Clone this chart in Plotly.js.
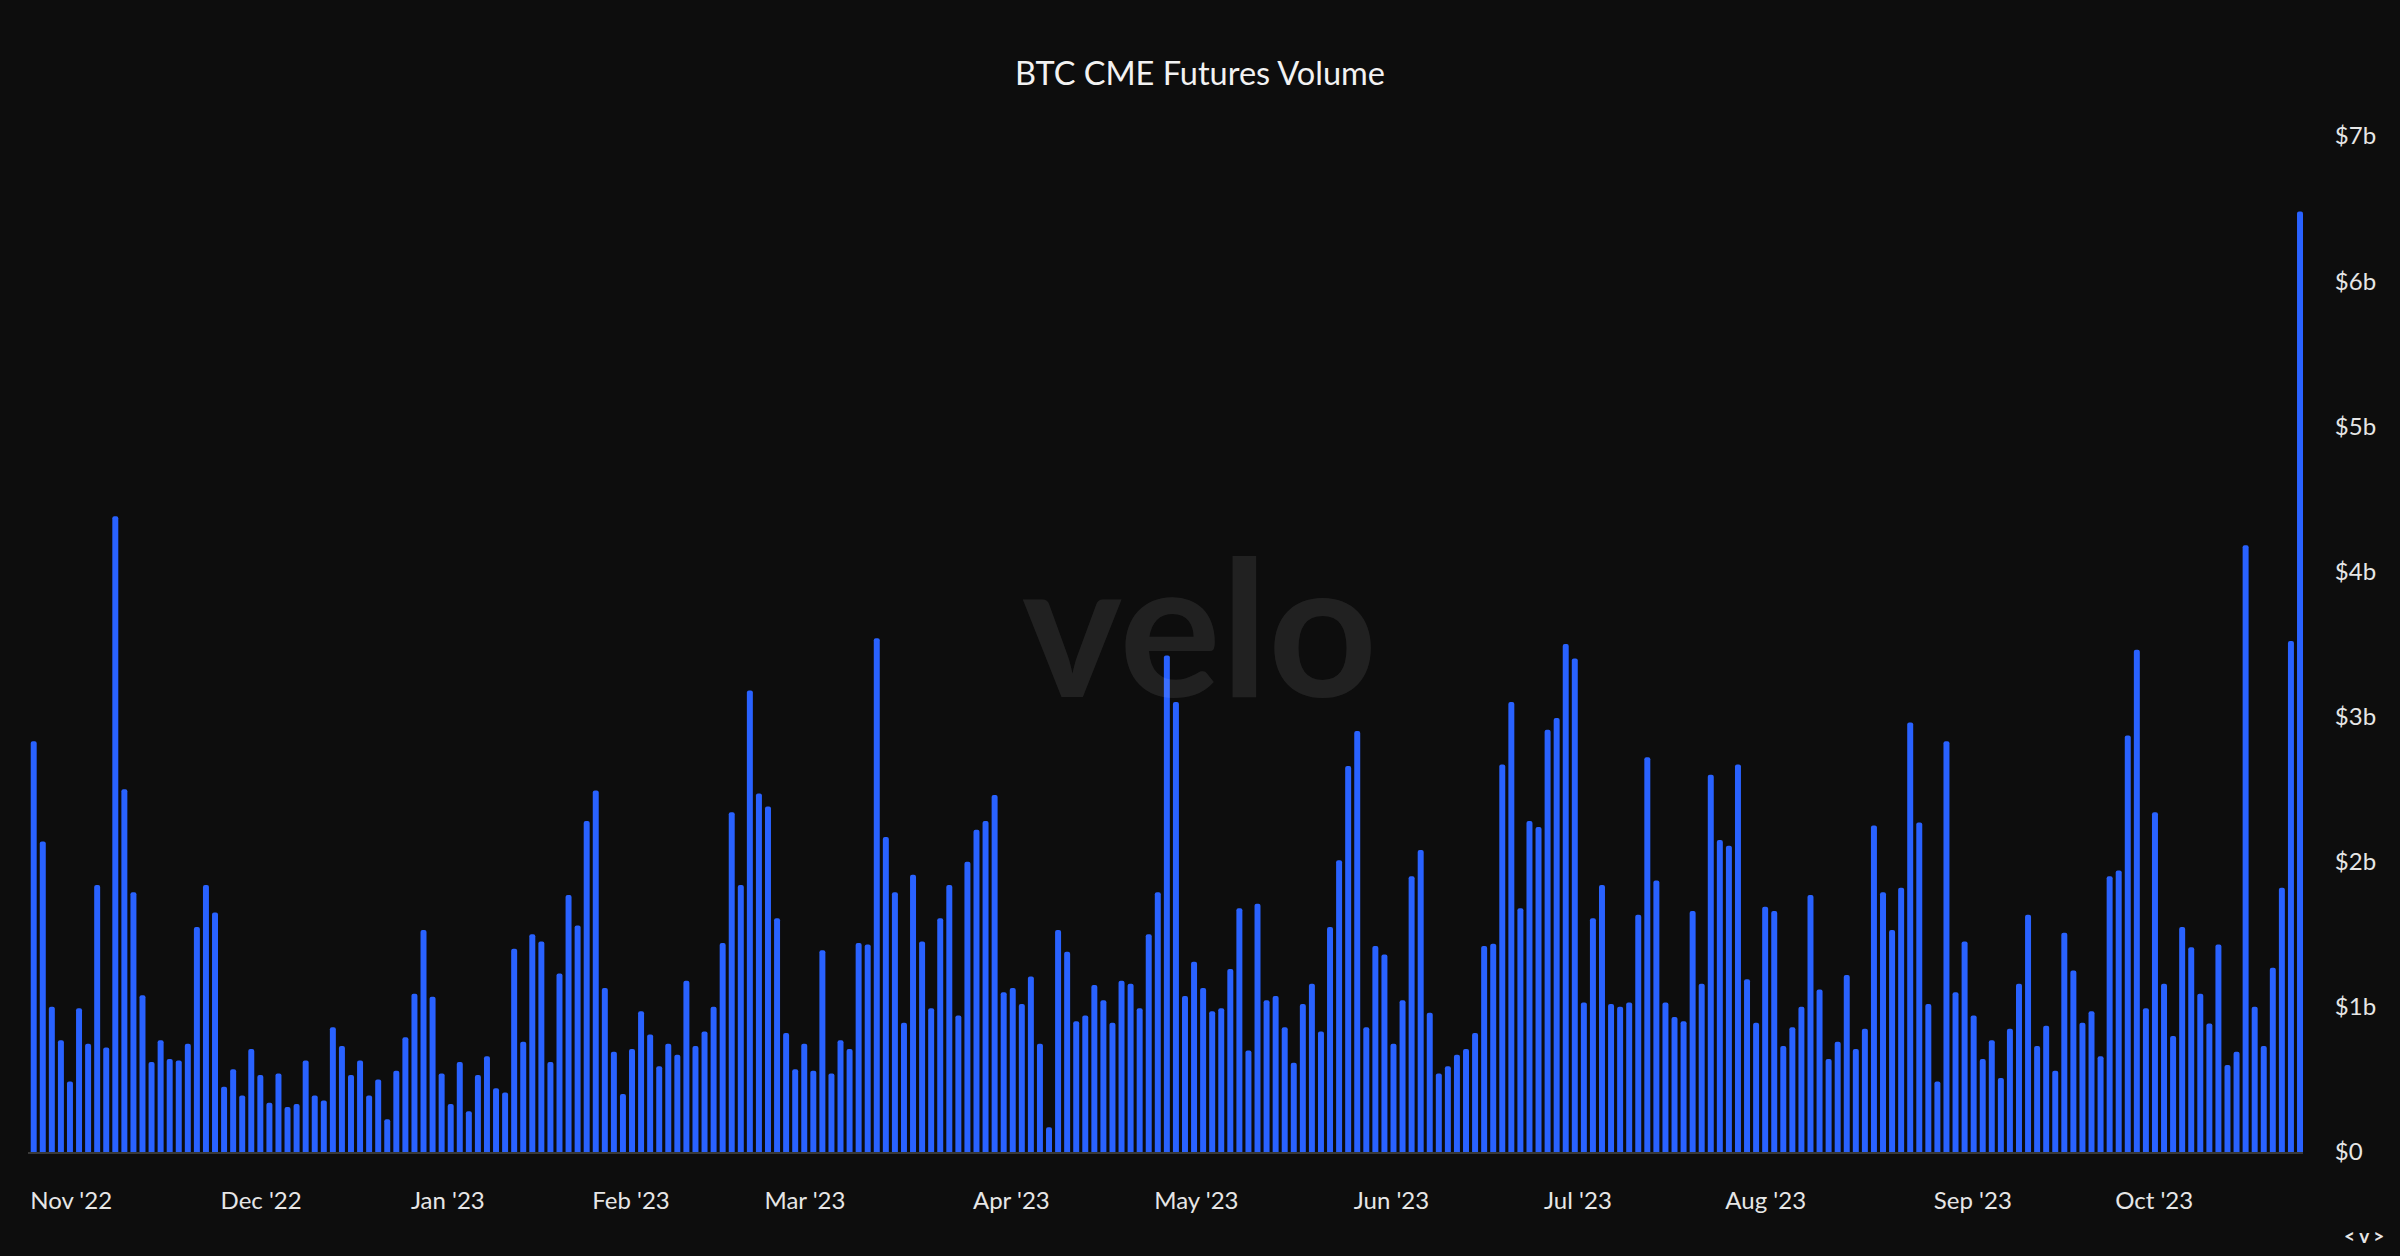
<!DOCTYPE html>
<html>
<head>
<meta charset="utf-8">
<script src="https://cdn.plot.ly/plotly-3.0.1.min.js"></script>
<style>
  html, body { margin: 0; padding: 0; background: #0d0d0d; }
  #chart { width: 2400px; height: 1256px; }
</style>
</head>
<body>
<div id="chart"></div>
<script>
// Month tick labels (placed at the start of each month)
const monthLabels = ["Nov '22", "Dec '22", "Jan '23", "Feb '23", "Mar '23", "Apr '23",
                     "May '23", "Jun '23", "Jul '23", "Aug '23", "Sep '23", "Oct '23"];

// Daily BTC CME futures volume, in USD billions, one array per month (trading days)
const nov22 = [2.83, 2.14, 1.00, 0.77, 0.485, 0.99, 0.745, 1.84, 0.72, 4.38, 2.50, 1.79, 1.08, 0.62, 0.77, 0.64, 0.63, 0.745, 1.55, 1.84, 1.65];
const dec22 = [0.45, 0.57, 0.39, 0.71, 0.53, 0.34, 0.54, 0.31, 0.33, 0.63, 0.39, 0.355, 0.86, 0.73, 0.53, 0.63, 0.39, 0.50, 0.225, 0.56, 0.79];
const jan23 = [1.09, 1.53, 1.07, 0.54, 0.33, 0.62, 0.28, 0.53, 0.66, 0.44, 0.41, 1.40, 0.76, 1.50, 1.45, 0.62, 1.23, 1.77, 1.56, 2.28];
const feb23 = [2.49, 1.13, 0.69, 0.40, 0.71, 0.97, 0.81, 0.59, 0.745, 0.67, 1.18, 0.73, 0.83, 1.00, 1.44, 2.34, 1.84, 3.18, 2.47];
const mar23 = [2.38, 1.61, 0.82, 0.57, 0.745, 0.56, 1.39, 0.54, 0.77, 0.71, 1.44, 1.43, 3.54, 2.17, 1.79, 0.89, 1.91, 1.45, 0.99, 1.61, 1.84, 0.94, 2.00];
const apr23 = [2.22, 2.28, 2.46, 1.10, 1.13, 1.02, 1.21, 0.745, 0.17, 1.53, 1.38, 0.90, 0.94, 1.15, 1.045, 0.89, 1.18, 1.16, 0.99, 1.50];
const may23 = [1.79, 3.42, 3.10, 1.075, 1.31, 1.13, 0.97, 0.99, 1.26, 1.68, 0.70, 1.71, 1.045, 1.075, 0.86, 0.615, 1.02, 1.16, 0.83, 1.55, 2.01, 2.66];
const jun23 = [2.90, 0.86, 1.42, 1.36, 0.745, 1.045, 1.90, 2.08, 0.96, 0.54, 0.59, 0.67, 0.71, 0.82, 1.42, 1.435, 2.67, 3.10, 1.68, 2.28, 2.24];
const jul23 = [2.91, 2.99, 3.50, 3.40, 1.03, 1.61, 1.84, 1.02, 1.00, 1.03, 1.635, 2.72, 1.87, 1.03, 0.93, 0.90, 1.66, 1.16, 2.60, 2.15];
const aug23 = [2.11, 2.67, 1.19, 0.89, 1.69, 1.66, 0.73, 0.86, 1.00, 1.77, 1.12, 0.64, 0.76, 1.22, 0.71, 0.85, 2.25, 1.79, 1.53, 1.82, 2.96, 2.27, 1.02];
const sep23 = [0.485, 2.83, 1.10, 1.45, 0.94, 0.64, 0.77, 0.51, 0.85, 1.16, 1.635, 0.73, 0.87, 0.56, 1.51, 1.25, 0.89, 0.97, 0.66, 1.90];
const oct23 = [1.94, 2.87, 3.46, 0.99, 2.34, 1.16, 0.80, 1.55, 1.41, 1.09, 0.885, 1.43, 0.60, 0.69, 4.18, 1.00, 0.73, 1.27, 1.82, 3.52, 6.48];

const yTickVals = [0, 1, 2, 3, 4, 5, 6, 7];
const yTickText = ["$0", "$1b", "$2b", "$3b", "$4b", "$5b", "$6b", "$7b"];

const monthly = [nov22, dec22, jan23, feb23, mar23, apr23, may23, jun23, jul23, aug23, sep23, oct23];

// Build sequential trading-day index; month ticks sit at each month boundary
const xs = [], ys = [], xTickVals = [];
let idx = 1;
monthly.forEach(function (arr) {
  xTickVals.push(idx - 0.5);
  arr.forEach(function (v) { xs.push(idx); ys.push(v); idx++; });
});
const nBars = xs.length;

const FONT = "Lato, 'Noto Sans', sans-serif";

const trace = {
  type: 'bar',
  x: xs,
  y: ys,
  marker: { color: '#2962ff', line: { width: 0 }, cornerradius: 3 },
  hoverinfo: 'skip'
};

const layout = {
  width: 2400,
  height: 1256,
  paper_bgcolor: '#0d0d0d',
  plot_bgcolor: '#0d0d0d',
  margin: { l: 28, r: 97, t: 136, b: 104, pad: 0 },
  bargap: 0.34,
  showlegend: false,
  font: { family: FONT, color: '#e6e6e6' },
  title: {
    text: 'BTC CME Futures Volume',
    x: 0.5, xanchor: 'center',
    y: 1 - 74 / 1256, yanchor: 'middle', yref: 'container',
    font: { family: FONT, size: 32.5, color: '#f2f2f2' }
  },
  xaxis: {
    range: [0.37, nBars + 0.33],
    tickmode: 'array',
    tickvals: xTickVals,
    ticktext: monthLabels,
    ticklabelposition: 'outside right',
    ticks: '',
    ticklabelstandoff: 26,
    showgrid: false,
    zeroline: false,
    showline: true,
    linecolor: '#3a3a3a',
    linewidth: 2,
    tickfont: { family: FONT, size: 24, color: '#e6e6e6' },
    fixedrange: true
  },
  yaxis: {
    side: 'right',
    range: [0, 7],
    tickmode: 'array',
    tickvals: yTickVals,
    ticktext: yTickText,
    ticks: 'outside',
    ticklen: 26,
    tickcolor: 'rgba(0,0,0,0)',
    showgrid: false,
    zeroline: false,
    showline: false,
    tickfont: { family: FONT, size: 24, color: '#e6e6e6' },
    fixedrange: true
  },
  annotations: [
    {
      text: '<b>velo</b>',
      xref: 'paper', yref: 'paper',
      x: 0.515, y: 0.521,
      xanchor: 'center', yanchor: 'middle',
      showarrow: false,
      font: { family: FONT, size: 190, color: 'rgba(255,255,255,0.085)' }
    },
    {
      text: '<b>&lt; v &gt;</b>',
      xref: 'paper', yref: 'paper',
      x: 1.027, y: -0.082,
      xanchor: 'center', yanchor: 'middle',
      showarrow: false,
      font: { family: FONT, size: 19, color: '#e6e6e6' }
    }
  ]
};

Plotly.newPlot('chart', [trace], layout, { displayModeBar: false, staticPlot: true });
</script>
</body>
</html>
